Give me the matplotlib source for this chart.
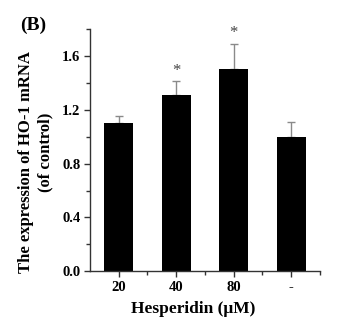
import numpy as np
import matplotlib.pyplot as plt
from matplotlib.ticker import MultipleLocator

plt.rcParams['font.family'] = 'Liberation Serif'
plt.rcParams['font.weight'] = 'bold'

# HO-1 mRNA relative to control
groups = ["20", "40", "80", "-"]
expression = [1.10, 1.31, 1.50, 1.00]
sd = [0.05, 0.10, 0.19, 0.11]
signif = ["", "*", "*", ""]

fig = plt.figure(figsize=(3.44, 3.24), dpi=100)
ax = fig.add_axes([0.2616, 0.1627, 0.6686, 0.7478])

x = np.arange(1, len(groups) + 1)
ax.bar(x, expression, width=0.5, color='black', zorder=2)
ax.errorbar(x, expression, yerr=[np.zeros(len(sd)), sd], fmt='none',
            ecolor='#8a8a8a', elinewidth=1.0, capsize=3, capthick=1.0, zorder=1)

for xi, val, err, s in zip(x, expression, sd, signif):
    if s:
        ax.annotate(s, (xi, val + err), xytext=(0, 2), textcoords='offset points',
                    ha='center', va='bottom', fontsize=12, color='#444444',
                    fontweight='normal')

ax.set_xlim(0.5, 4.5)
ax.set_ylim(0, 1.8)
ax.set_xticks(x)
ax.set_xticklabels(groups)
ax.set_xticks([1.5, 2.5, 3.5, 4.5], minor=True)
ax.yaxis.set_major_locator(MultipleLocator(0.4))
ax.yaxis.set_minor_locator(MultipleLocator(0.2))
ax.yaxis.set_major_formatter(plt.FormatStrFormatter('%.1f'))

for side in ['top', 'right']:
    ax.spines[side].set_visible(False)
for side in ['left', 'bottom']:
    ax.spines[side].set_color('#333333')
    ax.spines[side].set_linewidth(1.0)

ax.tick_params(axis='both', which='major', direction='out', length=4,
               width=1.0, color='#333333', labelsize=10.5, pad=3)
ax.tick_params(axis='both', which='minor', direction='out', length=3,
               width=1.0, color='#333333')
for lab in ax.get_xticklabels() + ax.get_yticklabels():
    lab.set_fontweight('bold')

fig.text(0.5625, 1 - 313 / 324, "Hesperidin (\u03bcM)", ha='center',
         va='baseline', fontsize=12.5, fontweight='bold')
fig.text(26 / 344, 1 - 162 / 324, "The expression of HO-1 mRNA", rotation=90,
         ha='center', va='center', fontsize=12, fontweight='bold')
fig.text(45 / 344, 1 - 152 / 324, "(of control)", rotation=90,
         ha='center', va='center', fontsize=12, fontweight='bold')
fig.text(20 / 344, 1 - 25 / 324, "(B)", ha='left', va='center',
         fontsize=14, fontweight='bold')

fig.savefig('out.png', dpi=100)
